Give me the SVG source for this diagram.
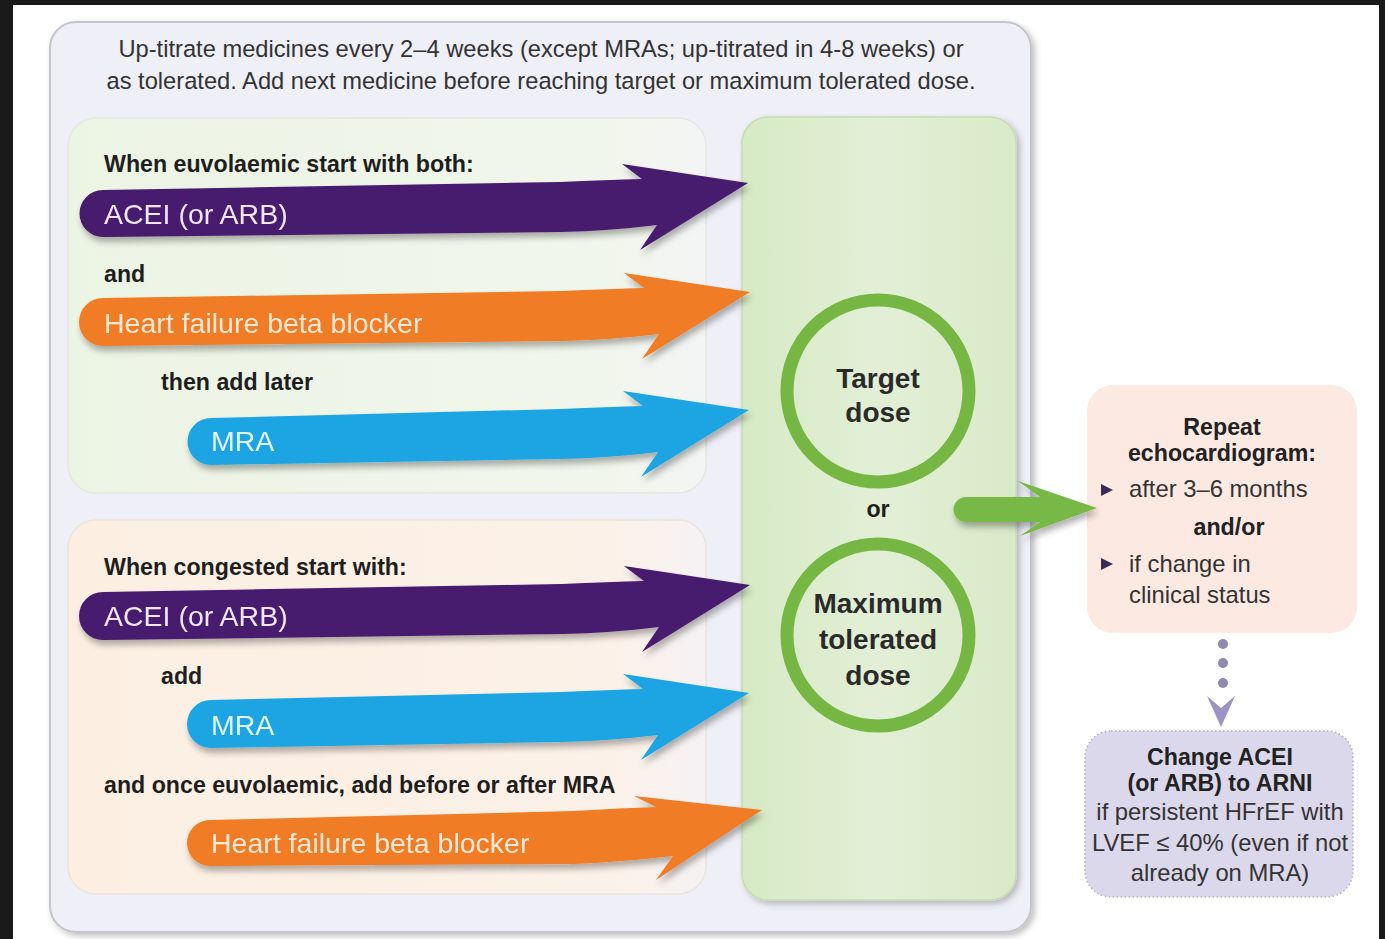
<svg xmlns="http://www.w3.org/2000/svg" width="1385" height="939" viewBox="0 0 1385 939">
  <defs>
    <style>
      .hdr { font-family: "Liberation Sans", Arial, sans-serif; font-size: 23.7px; fill: #333; }
      .lbl { font-family: "Liberation Sans", Arial, sans-serif; font-size: 23.2px; font-weight: bold; fill: #1e1e1e; }
      .arr { font-family: "Liberation Sans", Arial, sans-serif; font-size: 28.5px; }
      .circ { font-family: "Liberation Sans", Arial, sans-serif; font-size: 28px; font-weight: bold; fill: #2a2a2a; text-anchor: middle; }
      .box { font-family: "Liberation Sans", Arial, sans-serif; font-size: 23.8px; fill: #333; }
      .boxb { font-family: "Liberation Sans", Arial, sans-serif; font-size: 23.2px; font-weight: bold; fill: #222; }
    </style>
    <filter id="sh" x="-10%" y="-20%" width="130%" height="160%">
      <feDropShadow dx="2" dy="5" stdDeviation="3" flood-color="#000" flood-opacity="0.3"/>
    </filter>
    <filter id="psh" x="-5%" y="-5%" width="115%" height="115%">
      <feDropShadow dx="3" dy="3" stdDeviation="3" flood-color="#000" flood-opacity="0.25"/>
    </filter>
    <linearGradient id="gTop" x1="0" y1="0" x2="1" y2="0">
      <stop offset="0" stop-color="#ecf4e4"/>
      <stop offset="0.85" stop-color="#f1f6ec"/>
      <stop offset="1" stop-color="#f3f4f5"/>
    </linearGradient>
    <linearGradient id="gBot" x1="0" y1="0" x2="1" y2="0">
      <stop offset="0" stop-color="#fcefe2"/>
      <stop offset="0.85" stop-color="#fcf1e8"/>
      <stop offset="1" stop-color="#f5f2f4"/>
    </linearGradient>
    <linearGradient id="gGreen" x1="0" y1="0" x2="1" y2="0">
      <stop offset="0" stop-color="#d6eac4"/>
      <stop offset="0.5" stop-color="#e2efd6"/>
      <stop offset="1" stop-color="#d9eac8"/>
    </linearGradient>
  </defs>

  <!-- frame -->
  <rect x="0" y="0" width="1385" height="939" fill="#1a1a1a"/>
  <rect x="13" y="5" width="1366" height="934" fill="#ffffff"/>

  <!-- outer container -->
  <g id="container">
    <rect x="50" y="22" width="981" height="910" rx="26" fill="#efeff8" stroke="#c4c4cc" stroke-width="2" filter="url(#psh)"/>
    <text class="hdr" x="541" y="57" text-anchor="middle">Up-titrate medicines every 2–4 weeks (except MRAs; up-titrated in 4-8 weeks) or</text>
    <text class="hdr" x="541" y="89" text-anchor="middle">as tolerated. Add next medicine before reaching target or maximum tolerated dose.</text>
  </g>

  <g id="panel-euvolaemic">
    <rect x="68" y="118" width="638" height="375" rx="28" fill="url(#gTop)" stroke="#e4e8e0" stroke-width="1.5"/>
    <text class="lbl" x="104" y="172">When euvolaemic start with both:</text>
    <text class="lbl" x="104" y="282">and</text>
    <text class="lbl" x="161" y="390">then add later</text>
  </g>

  <g id="panel-congested">
    <rect x="68" y="520" width="638" height="374" rx="28" fill="url(#gBot)" stroke="#ece4dc" stroke-width="1.5"/>
    <text class="lbl" x="104" y="575">When congested start with:</text>
    <text class="lbl" x="161" y="684">add</text>
    <text class="lbl" x="104" y="793">and once euvolaemic, add before or after MRA</text>
  </g>

  <g id="target-panel">
    <rect x="742" y="117" width="274" height="783" rx="26" fill="url(#gGreen)" stroke="#c6dcb2" stroke-width="1.5" filter="url(#psh)"/>
  </g>

  <!-- medicine arrows -->
  <g id="arrow-acei-1" filter="url(#sh)">
    <path transform="translate(748,183)" fill="#461a6e" d="M -645,7 L -188,-1 Q -140,-3 -106,-4 L -126,-19 L 0,0 L -108,67 L -91,42 Q -140,48 -188,49 L -645,54 A 23.5 23.5 0 0 1 -645,7 Z"/>
    <text class="arr" x="104" y="224" fill="#f1e6f6">ACEI (or ARB)</text>
  </g>
  <g id="arrow-bb-1" filter="url(#sh)">
    <path transform="translate(750,292)" fill="#f07b25" d="M -647,6 L -188,-1 Q -140,-3 -106,-4 L -126,-19 L 0,0 L -108,67 L -91,42 Q -140,48 -188,49 L -647,54 A 24 24 0 0 1 -647,6 Z"/>
    <text class="arr" x="104" y="333" fill="#fde8d6">Heart failure beta blocker</text>
  </g>
  <g id="arrow-mra-1" filter="url(#sh)">
    <path transform="translate(749,410)" fill="#1ea5e2" d="M -538,8 L -188,-1 Q -140,-3 -106,-4 L -126,-19 L 0,0 L -108,67 L -91,42 Q -140,48 -188,49 L -538,55 A 23.5 23.5 0 0 1 -538,8 Z"/>
    <text class="arr" x="211" y="451" fill="#e4f6ff">MRA</text>
  </g>
  <g id="arrow-acei-2" filter="url(#sh)">
    <path transform="translate(750,585)" fill="#461a6e" d="M -647,7 L -188,-1 Q -140,-3 -106,-4 L -126,-19 L 0,0 L -108,67 L -91,42 Q -140,48 -188,49 L -647,55 A 24 24 0 0 1 -647,7 Z"/>
    <text class="arr" x="104" y="626" fill="#f1e6f6">ACEI (or ARB)</text>
  </g>
  <g id="arrow-mra-2" filter="url(#sh)">
    <path transform="translate(749,693)" fill="#1ea5e2" d="M -538,7 L -188,-1 Q -140,-3 -106,-4 L -126,-19 L 0,0 L -108,67 L -91,42 Q -140,48 -188,49 L -538,55 A 24 24 0 0 1 -538,7 Z"/>
    <text class="arr" x="211" y="735" fill="#e4f6ff">MRA</text>
  </g>
  <g id="arrow-bb-2" filter="url(#sh)">
    <path transform="translate(762,810)" fill="#f07b25" d="M -552,10 L -188,1 Q -140,-2 -106,-3 L -128,-14 L 0,0 L -106,70 L -89,46 Q -140,52 -188,54 L -552,56 A 23 23 0 0 1 -552,10 Z"/>
    <text class="arr" x="211" y="853" fill="#fde8d6">Heart failure beta blocker</text>
  </g>

  <!-- dose circles -->
  <g id="target-dose">
    <circle cx="878" cy="391" r="91" fill="none" stroke="#76b743" stroke-width="13"/>
    <text class="circ" x="878" y="388">Target</text>
    <text class="circ" x="878" y="422">dose</text>
  </g>
  <text class="lbl" x="878" y="517" text-anchor="middle">or</text>
  <g id="max-dose">
    <circle cx="878" cy="635" r="91" fill="none" stroke="#76b743" stroke-width="13"/>
    <text class="circ" x="878" y="613">Maximum</text>
    <text class="circ" x="878" y="649">tolerated</text>
    <text class="circ" x="878" y="685">dose</text>
  </g>

  <!-- right boxes -->
  <g id="repeat-echo">
    <rect x="1087" y="385" width="270" height="248" rx="26" fill="#fbe9e2"/>
    <text class="boxb" x="1222" y="435" text-anchor="middle">Repeat</text>
    <text class="boxb" x="1222" y="461" text-anchor="middle">echocardiogram:</text>
    <path d="M 1101,484 L 1113,490 L 1101,496 Z" fill="#3b2a55"/>
    <text class="box" x="1129" y="497">after 3–6 months</text>
    <text class="boxb" x="1229" y="535" text-anchor="middle">and/or</text>
    <path d="M 1101,558 L 1113,564 L 1101,570 Z" fill="#3b2a55"/>
    <text class="box" x="1129" y="572">if change in</text>
    <text class="box" x="1129" y="603">clinical status</text>
  </g>

  <g id="change-arni">
    <rect x="1085" y="731" width="268" height="166" rx="26" fill="#dcd8ec" stroke="#b4b0c0" stroke-width="1.5" stroke-dasharray="1.5 2.5"/>
    <text class="boxb" x="1220" y="765" text-anchor="middle">Change ACEI</text>
    <text class="boxb" x="1220" y="791" text-anchor="middle">(or ARB) to ARNI</text>
    <text class="box" x="1220" y="820" text-anchor="middle">if persistent HFrEF with</text>
    <text class="box" x="1220" y="851" text-anchor="middle">LVEF ≤ 40% (even if not</text>
    <text class="box" x="1220" y="881" text-anchor="middle">already on MRA)</text>
  </g>

  <!-- connectors -->
  <g id="connectors">
    <path d="M 966,497 L 1040,497 L 1018,481 L 1097,508 L 1020,536 L 1040,522 L 966,522 A 12.5 12.5 0 0 1 966,497 Z" fill="#78b846" filter="url(#sh)"/>
    <g fill="#9088ae">
      <circle cx="1223" cy="644" r="5"/>
      <circle cx="1223" cy="663" r="5"/>
      <circle cx="1223" cy="683" r="5"/>
    </g>
    <path d="M 1207,696 L 1221,708 L 1235,696 L 1221,727 Z" fill="#9d92c4"/>
  </g>
</svg>
